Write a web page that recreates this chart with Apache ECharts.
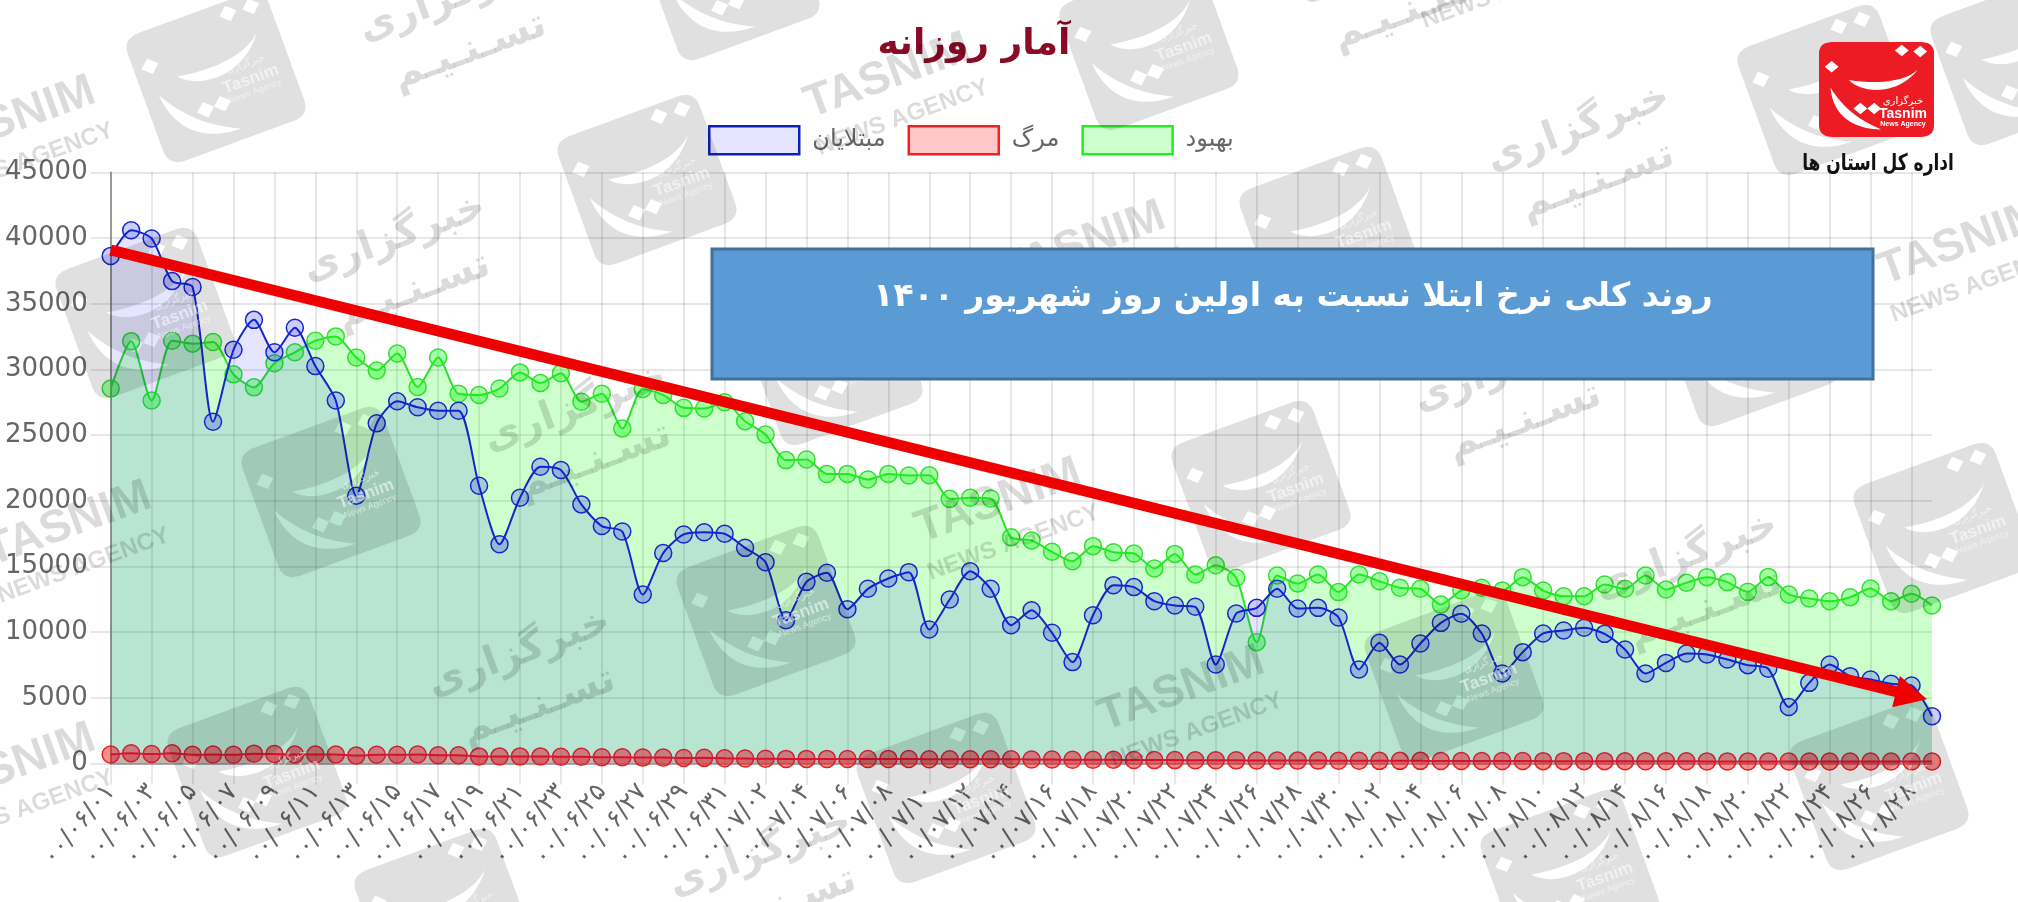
<!DOCTYPE html>
<html><head><meta charset="utf-8">
<style>html,body{margin:0;padding:0;background:#fff}#c{width:2018px;height:902px}</style>
<script src="https://cdn.jsdelivr.net/npm/echarts@6/dist/echarts.min.js"></script></head>
<body><div id="c"></div>
<script>
const categories = [
'۰۰/۰۶/۰۱','۰۰/۰۶/۰۲','۰۰/۰۶/۰۳','۰۰/۰۶/۰۴','۰۰/۰۶/۰۵','۰۰/۰۶/۰۶','۰۰/۰۶/۰۷','۰۰/۰۶/۰۸','۰۰/۰۶/۰۹','۰۰/۰۶/۱۰',
'۰۰/۰۶/۱۱','۰۰/۰۶/۱۲','۰۰/۰۶/۱۳','۰۰/۰۶/۱۴','۰۰/۰۶/۱۵','۰۰/۰۶/۱۶','۰۰/۰۶/۱۷','۰۰/۰۶/۱۸','۰۰/۰۶/۱۹','۰۰/۰۶/۲۰',
'۰۰/۰۶/۲۱','۰۰/۰۶/۲۲','۰۰/۰۶/۲۳','۰۰/۰۶/۲۴','۰۰/۰۶/۲۵','۰۰/۰۶/۲۶','۰۰/۰۶/۲۷','۰۰/۰۶/۲۸','۰۰/۰۶/۲۹','۰۰/۰۶/۳۰','۰۰/۰۶/۳۱',
'۰۰/۰۷/۰۱','۰۰/۰۷/۰۲','۰۰/۰۷/۰۳','۰۰/۰۷/۰۴','۰۰/۰۷/۰۵','۰۰/۰۷/۰۶','۰۰/۰۷/۰۷','۰۰/۰۷/۰۸','۰۰/۰۷/۰۹','۰۰/۰۷/۱۰',
'۰۰/۰۷/۱۱','۰۰/۰۷/۱۲','۰۰/۰۷/۱۳','۰۰/۰۷/۱۴','۰۰/۰۷/۱۵','۰۰/۰۷/۱۶','۰۰/۰۷/۱۷','۰۰/۰۷/۱۸','۰۰/۰۷/۱۹','۰۰/۰۷/۲۰',
'۰۰/۰۷/۲۱','۰۰/۰۷/۲۲','۰۰/۰۷/۲۳','۰۰/۰۷/۲۴','۰۰/۰۷/۲۵','۰۰/۰۷/۲۶','۰۰/۰۷/۲۷','۰۰/۰۷/۲۸','۰۰/۰۷/۲۹','۰۰/۰۷/۳۰',
'۰۰/۰۸/۰۱','۰۰/۰۸/۰۲','۰۰/۰۸/۰۳','۰۰/۰۸/۰۴','۰۰/۰۸/۰۵','۰۰/۰۸/۰۶','۰۰/۰۸/۰۷','۰۰/۰۸/۰۸','۰۰/۰۸/۰۹','۰۰/۰۸/۱۰',
'۰۰/۰۸/۱۱','۰۰/۰۸/۱۲','۰۰/۰۸/۱۳','۰۰/۰۸/۱۴','۰۰/۰۸/۱۵','۰۰/۰۸/۱۶','۰۰/۰۸/۱۷','۰۰/۰۸/۱۸','۰۰/۰۸/۱۹','۰۰/۰۸/۲۰',
'۰۰/۰۸/۲۱','۰۰/۰۸/۲۲','۰۰/۰۸/۲۳','۰۰/۰۸/۲۴','۰۰/۰۸/۲۵','۰۰/۰۸/۲۶','۰۰/۰۸/۲۷','۰۰/۰۸/۲۸','۰۰/۰۸/۲۹'];
const infected = [38650,40600,39980,36730,36280,26020,31500,33780,31310,33180,
30260,27640,20390,25900,27580,27130,26860,26860,21150,16690,
20240,22590,22350,19730,18080,17660,12870,16030,17440,17610,
17490,16420,15330,10910,13830,14520,11750,13300,14090,14570,
10200,12490,14640,13300,10530,11670,9950,7720,11290,13580,
13430,12360,12030,11930,7540,11420,11850,13300,11800,11850,
11120,7160,9190,7540,9140,10710,11400,9900,6850,8480,
9900,10130,10330,9870,8680,6850,7660,8380,8300,7920,
7490,7210,4310,6140,7540,6650,6400,6070,5940,3600];
const deaths = [690,780,720,780,660,690,660,750,720,690,
690,690,600,660,660,690,630,630,540,540,
540,540,510,510,480,480,450,450,420,430,
400,380,360,350,350,350,340,340,350,340,
330,320,320,330,320,310,300,290,280,280,
270,260,260,250,250,240,230,230,220,220,
210,210,200,200,200,190,190,190,190,190,
180,180,180,180,170,170,170,170,160,160,
160,160,150,150,150,150,150,150,150,150];
const recovered = [28550,32160,27640,32190,31970,32100,29630,28640,30470,31310,
32190,32520,30920,29930,31220,28670,30920,28150,28060,28550,
29780,28970,29720,27550,28150,25510,28520,28060,27080,27030,
27500,26060,25050,23100,23150,22050,22050,21620,22050,21930,
21950,20150,20230,20180,17230,16980,16120,15400,16550,16090,
15990,14850,15960,14390,15100,14140,9240,14310,13700,14390,
13050,14390,13880,13380,13300,12100,13170,13380,13170,14190,
13170,12740,12740,13630,13300,14310,13250,13760,14190,13810,
13070,14210,12870,12560,12360,12660,13320,12360,12920,12030];
const seriesNames = ['مبتلایان','مرگ','بهبود'];
const titleText = 'آمار روزانه';
const boxText = 'روند کلی نرخ ابتلا نسبت به اولین روز شهریور ۱۴۰۰';
const trendStart = [0,39100];
const trendEnd = [87.94,5180];

// Decorative watermark placement (page pixels)
const tiles = [[216,77],[647,180],[1149,45],[1329,232],[1827,90],[145,313],[833,360],[331,492],[1261,486],[1750,341],[766,611],[1454,676],[1943,528],[257,772],[946,798],[1879,785],[444,914],[1570,875],[730,-25],[2020,60]];
const arabicMarks = [[460,25],[404,265],[585,435],[529,680],[1696,583],[1588,155],[1515,395],[1400,-15],[770,880]];
const latinMarks = [[76,545],[1006,522],[1189,710],[895,97],[1969,264],[20,787],[1500,-30],[20,140],[1090,265]];

const AR = '"DejaVu Sans",sans-serif';
const tilePath = 'M12 0H88Q100 0 100 12V88Q100 100 88 100H12Q0 100 0 88V12Q0 0 12 0Z'
 +'M92 18C86 40 58 46 26 40C36 54 74 60 92 18Z'
 +'M10 48C12 78 30 92 54 92C38 84 22 72 10 48Z'
 +'M72 3L66 9L72 15L78 9Z M88 4L82 10L88 16L94 10Z M11 20L5 26L11 32L17 26Z M36 64L30 70L36 76L42 70Z M48 64L42 70L48 76L54 70Z';
echarts.graphic.registerShape('tile', echarts.graphic.extendPath(tilePath, {}));
const wmFill = 'rgba(0,0,0,0.12)';
const wmText = 'rgba(0,0,0,0.14)';
const graphics = [];
tiles.forEach(t => graphics.push({type:'group',x:t[0],y:t[1],rotation:0.35,silent:true,children:[
  {type:'tile',z:20,x:-75,y:-68,scaleX:1.5,scaleY:1.36,style:{fill:wmFill}},
  {type:'text',z:20,x:32,y:-2,style:{text:'خبرگزاری',font:'10px '+AR,fill:'rgba(255,255,255,0.55)',textAlign:'center',textVerticalAlign:'middle'}},
  {type:'text',z:20,x:32,y:14,style:{text:'Tasnim',font:'bold 17px "Liberation Sans"',fill:'rgba(255,255,255,0.55)',textAlign:'center',textVerticalAlign:'middle'}},
  {type:'text',z:20,x:32,y:27,style:{text:'News Agency',font:'9px "Liberation Sans"',fill:'rgba(255,255,255,0.55)',textAlign:'center',textVerticalAlign:'middle'}}
]}));
arabicMarks.forEach(t => graphics.push({type:'group',x:t[0],y:t[1],rotation:0.35,silent:true,children:[
  {type:'text',z:20,x:0,y:-28,style:{text:'خبرگزاری',font:'bold 40px '+AR,fill:wmText,textAlign:'center',textVerticalAlign:'middle'}},
  {type:'text',z:20,x:0,y:28,style:{text:'تسـنـیـم',font:'bold 40px '+AR,fill:wmText,textAlign:'center',textVerticalAlign:'middle'}}
]}));
latinMarks.forEach(t => graphics.push({type:'group',x:t[0],y:t[1],rotation:0.35,silent:true,children:[
  {type:'text',z:20,x:0,y:-22,style:{text:'TASNIM',font:'bold 46px "Liberation Sans"',fill:wmText,textAlign:'center',textVerticalAlign:'middle'}},
  {type:'text',z:20,x:0,y:22,style:{text:'NEWS AGENCY',font:'bold 24px "Liberation Sans"',fill:wmText,textAlign:'center',textVerticalAlign:'middle'}}
]}));
// blue caption box
graphics.push({type:'rect',z:30,silent:true,shape:{x:712,y:249,width:1161,height:130},style:{fill:'#5b9bd5',stroke:'#41719c',lineWidth:3}});
graphics.push({type:'text',z:31,silent:true,x:1293,y:297,style:{text:boxText,font:'bold 33px '+AR,fill:'#fff',textAlign:'center',textVerticalAlign:'middle'}});
// logo
graphics.push({type:'rect',z:30,silent:true,shape:{x:1819,y:42,width:115,height:95,r:10},style:{fill:'#fff'}});
graphics.push({type:'tile',z:31,silent:true,x:1819,y:42,scaleX:1.15,scaleY:0.95,style:{fill:'#ed1c24'}});
graphics.push({type:'text',z:32,silent:true,x:1903,y:101,style:{text:'خبرگزاری',font:'10px '+AR,fill:'#fff',textAlign:'center',textVerticalAlign:'middle'}});
graphics.push({type:'text',z:32,silent:true,x:1903,y:114,style:{text:'Tasnim',font:'bold 14px "Liberation Sans"',fill:'#fff',textAlign:'center',textVerticalAlign:'middle'}});
graphics.push({type:'text',z:32,silent:true,x:1903,y:124,style:{text:'News Agency',font:'bold 7px "Liberation Sans"',fill:'#fff',textAlign:'center',textVerticalAlign:'middle'}});
graphics.push({type:'text',z:32,silent:true,x:1878,y:164,scaleX:0.74,style:{text:'اداره کل استان ها',font:'bold 23px '+AR,fill:'#111',textAlign:'center',textVerticalAlign:'middle'}});

const gridCol = 'rgba(0,0,0,0.13)';
const mk = (name,data,z,line,fill,areaAlpha,extra) => Object.assign({
  name,type:'line',data,z,smooth:0.25,symbol:'circle',symbolSize:17,showAllSymbol:true,
  lineStyle:{color:line,width:2},
  itemStyle:{color:fill,borderColor:line,borderWidth:1.5},
  areaStyle:{color:areaAlpha,opacity:1,origin:'start'},emphasis:{disabled:true}
},extra||{});

const chart = echarts.init(document.getElementById('c'),null,{renderer:'canvas'});
chart.setOption({
  animation:false,backgroundColor:'#fff',
  title:{text:titleText,left:969,textAlign:'center',top:22,textStyle:{fontFamily:AR,fontWeight:'bold',fontSize:36,color:'#8b0a25'}},
  legend:{left:703,top:120,itemWidth:90,itemHeight:28,itemGap:22,icon:'rect',selectedMode:false,
    textStyle:{fontFamily:AR,fontSize:24,color:'#666',padding:[0,0,0,8]},
    data:[
      {name:seriesNames[0],itemStyle:{color:'rgba(0,0,255,0.1)',borderColor:'#1020c0',borderWidth:2.5}},
      {name:seriesNames[1],itemStyle:{color:'rgba(255,0,0,0.22)',borderColor:'#e22',borderWidth:2.5}},
      {name:seriesNames[2],itemStyle:{color:'rgba(0,255,0,0.2)',borderColor:'#2e2',borderWidth:2.5}}
    ]},
  grid:{left:110.7,right:86,top:172.5,bottom:138.5},
  xAxis:{type:'category',boundaryGap:false,data:categories,
    axisLine:{onZero:true,lineStyle:{color:'#aaa',width:2}},
    axisTick:{show:true,interval:1,length:21,lineStyle:{color:gridCol,width:1.5}},
    splitLine:{show:true,interval:1,lineStyle:{color:gridCol,width:1.5}},
    axisLabel:{interval:1,rotate:50,margin:24,fontSize:25,color:'#666',fontFamily:AR}},
  yAxis:{type:'value',min:0,max:45000,interval:5000,
    axisLine:{show:true,lineStyle:{color:'#999',width:2}},
    axisTick:{show:true,length:20,lineStyle:{color:gridCol,width:1.5}},
    splitLine:{show:true,lineStyle:{color:gridCol,width:1.5}},
    axisLabel:{margin:23,fontSize:26,color:'#666',fontFamily:'"DejaVu Sans",sans-serif',formatter:v=>String(v)}},
  series:[
    mk(seriesNames[2],recovered,2,'#2ee02e','rgba(0,255,0,0.35)','rgba(0,255,0,0.2)'),
    mk(seriesNames[1],deaths,3,'#e52222','rgba(255,0,0,0.45)','rgba(255,0,0,0.2)'),
    mk(seriesNames[0],infected,4,'#1428c8','rgba(0,0,255,0.2)','rgba(0,0,255,0.1)',{
      markLine:{silent:true,z:25,animation:false,symbol:['none','triangle'],symbolSize:32,label:{show:false},
        lineStyle:{type:'solid',color:'#ee0000',width:11},emphasis:{disabled:true},
        data:[[{coord:trendStart},{coord:trendEnd}]]}
    })
  ],
  graphic:{elements:graphics}
});
</script></body></html>
